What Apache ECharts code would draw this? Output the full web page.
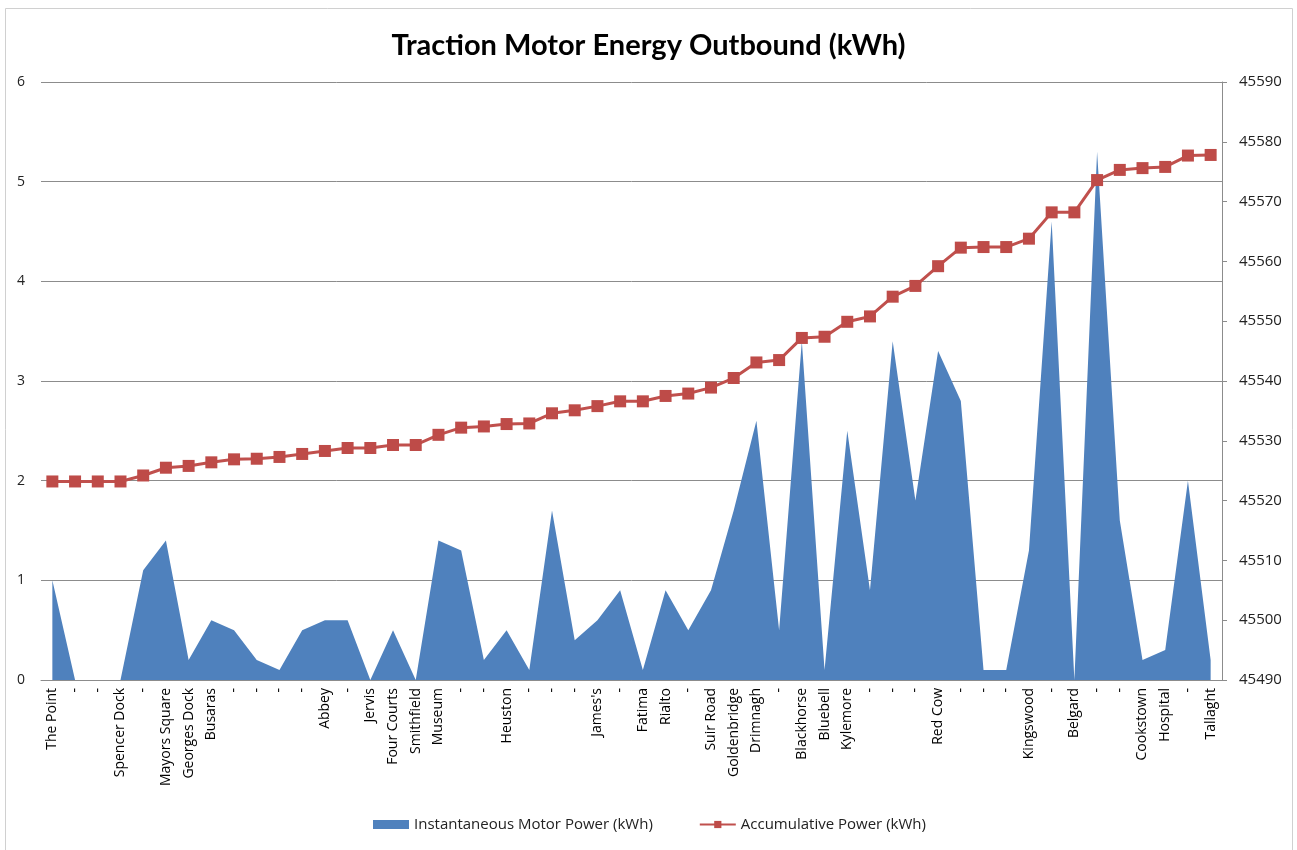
<!DOCTYPE html>
<html>
<head>
<meta charset="utf-8">
<title>Traction Motor Energy Outbound (kWh)</title>
<script src="https://cdn.jsdelivr.net/npm/echarts@6/dist/echarts.min.js"></script>
<style>
  html, body { margin: 0; padding: 0; background: #ffffff; }
  #chart { width: 1297px; height: 850px; }
</style>
</head>
<body>
<div id="chart"></div>
<script>
// Stops along the outbound run ("-" marks a sample taken between stops)
const stops = [
  'The Point', '-', '-', 'Spencer Dock', '-', 'Mayors Square', 'Georges Dock', 'Busaras',
  '-', '-', '-', '-', 'Abbey', '-', 'Jervis', 'Four Courts', 'Smithfield', 'Museum',
  '-', '-', 'Heuston', '-', '-', '-', "James's", '-', 'Fatima', 'Rialto', '-',
  'Suir Road', 'Goldenbridge', 'Drimnagh', '-', 'Blackhorse', 'Bluebell', 'Kylemore',
  '-', '-', '-', 'Red Cow', '-', '-', '-', 'Kingswood', '-', 'Belgard', '-', '-',
  'Cookstown', 'Hospital', '-', 'Tallaght'
];

// Instantaneous motor power per sample (kWh)
const instantPower = [
  1.0, 0, 0, 0, 1.1, 1.4, 0.2, 0.6, 0.5, 0.2, 0.1, 0.5, 0.6, 0.6, 0, 0.5, 0, 1.4,
  1.3, 0.2, 0.5, 0.1, 1.7, 0.4, 0.6, 0.9, 0.1, 0.9, 0.5, 0.9, 1.7, 2.6, 0.5, 3.4,
  0.1, 2.5, 0.9, 3.4, 1.8, 3.3, 2.8, 0.1, 0.1, 1.3, 4.6, 0, 5.3, 1.6, 0.2, 0.3,
  2.0, 0.2
];

// Accumulated energy meter reading (kWh)
const accumulated = [
  45523.2, 45523.2, 45523.2, 45523.2, 45524.2, 45525.5, 45525.8, 45526.4, 45526.9,
  45527.0, 45527.3, 45527.8, 45528.3, 45528.8, 45528.8, 45529.3, 45529.3, 45531.0,
  45532.2, 45532.4, 45532.8, 45532.9, 45534.6, 45535.1, 45535.8, 45536.6, 45536.6,
  45537.5, 45537.9, 45538.9, 45540.5, 45543.1, 45543.5, 45547.2, 45547.4, 45549.9,
  45550.8, 45554.1, 45555.9, 45559.2, 45562.3, 45562.4, 45562.4, 45563.8, 45568.2,
  45568.2, 45573.6, 45575.3, 45575.6, 45575.8, 45577.7, 45577.8
];

const FONT = '"Open Sans", Lato, "DejaVu Sans", sans-serif';
const TITLE_FONT = 'Lato, "Open Sans", "DejaVu Sans", sans-serif';

// ECharts reads a bare '-' as "no value", so categories get index keys
// and the stop names are written back by the label formatter.
const categoryKeys = stops.map((s, i) => 'c' + i);

const chart = echarts.init(document.getElementById('chart'), null, { renderer: 'canvas' });

chart.setOption({
  backgroundColor: '#ffffff',
  animation: false,
  textStyle: { fontFamily: FONT },
  title: {
    text: 'Traction Motor Energy Outbound (kWh)',
    left: 'center',
    top: 26,
    textStyle: { fontFamily: TITLE_FONT, fontSize: 29, fontWeight: 'bold', color: '#000000' }
  },
  graphic: [{
    type: 'rect',
    shape: { x: 5.5, y: 8.5, width: 1287, height: 845 },
    style: { fill: 'none', stroke: '#d0d0d0', lineWidth: 1 },
    silent: true,
    z: -1
  }],
  legend: {
    bottom: 13,
    left: 368,
    itemGap: 46,
    itemWidth: 36,
    itemHeight: 9,
    textStyle: { fontFamily: FONT, fontSize: 15, color: '#222222' },
    data: [
      { name: 'Instantaneous Motor Power (kWh)', icon: 'rect' },
      { name: 'Accumulative Power (kWh)' }
    ]
  },
  grid: {
    left: 41,
    right: 75,
    top: 82,
    bottom: 170,
    containLabel: false
  },
  xAxis: {
    type: 'category',
    data: categoryKeys,
    boundaryGap: true,
    axisLine: { show: true, lineStyle: { color: '#8c8c8c', width: 1 } },
    axisTick: { show: false },
    axisLabel: {
      interval: 0,
      rotate: 90,
      margin: 8,
      fontFamily: FONT,
      fontSize: 14,
      color: '#000000',
      formatter: (value) => stops[Number(String(value).slice(1))]
    },
    splitLine: { show: false }
  },
  yAxis: [
    {
      type: 'value',
      min: 0,
      max: 6,
      interval: 1,
      position: 'left',
      axisLine: { show: false },
      axisTick: { show: false },
      axisLabel: { margin: 16, fontFamily: FONT, fontSize: 14, color: '#222222' },
      splitLine: { show: true, lineStyle: { color: '#8c8c8c', width: 1 } }
    },
    {
      type: 'value',
      min: 45490,
      max: 45590,
      interval: 10,
      position: 'right',
      axisLine: { show: true, lineStyle: { color: '#8c8c8c', width: 1 } },
      axisTick: { show: true, inside: false, length: 5, lineStyle: { color: '#8c8c8c' } },
      axisLabel: {
        margin: 17,
        fontFamily: FONT,
        fontSize: 15,
        color: '#222222',
        formatter: (v) => String(v)
      },
      splitLine: { show: false }
    }
  ],
  series: [
    {
      name: 'Instantaneous Motor Power (kWh)',
      type: 'line',
      yAxisIndex: 0,
      data: instantPower,
      symbol: 'none',
      showSymbol: false,
      lineStyle: { width: 0, color: '#4f81bd' },
      itemStyle: { color: '#4f81bd' },
      areaStyle: { color: '#4f81bd', opacity: 1 },
      z: 1
    },
    {
      name: 'Accumulative Power (kWh)',
      type: 'line',
      yAxisIndex: 1,
      data: accumulated,
      symbol: 'rect',
      symbolSize: 12,
      lineStyle: { width: 3, color: '#c0504d' },
      itemStyle: { color: '#be4b48' },
      z: 3
    }
  ]
});
</script>
</body>
</html>
